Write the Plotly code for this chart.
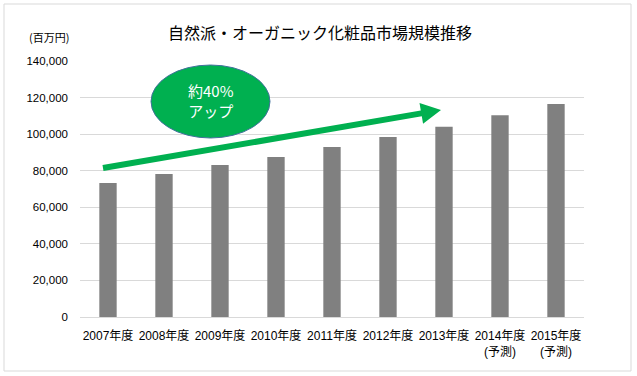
import plotly.graph_objects as go
import math

categories = ["2007年度", "2008年度", "2009年度", "2010年度", "2011年度",
              "2012年度", "2013年度", "2014年度<br>(予測)", "2015年度<br>(予測)"]
values = [73300, 78200, 83100, 87500, 93000, 98400, 104000, 110400, 116500]
y_ticks = [0, 20000, 40000, 60000, 80000, 100000, 120000, 140000]
title_text = "自然派・オーガニック化粧品市場規模推移"
unit_text = "(百万円)"
bubble_text = "約40%<br>アップ"

W, H = 637, 376
L, R, T, B = 80, 53, 61, 59
pw, ph = W - L - R, H - T - B
xr = [-0.5, len(categories) - 0.5]
yr = [0, 140000]

def px2d(px, py):
    x = xr[0] + (px - L) / pw * (xr[1] - xr[0])
    y = yr[0] + (H - B - py) / ph * (yr[1] - yr[0])
    return x, y

def px2paper(px, py):
    return (px - L) / pw, (H - B - py) / ph

xs = list(range(len(categories)))
fig = go.Figure()
fig.add_trace(go.Bar(x=xs, y=values, marker=dict(color="#808080", line=dict(width=0)),
                     width=0.31, hoverinfo="skip"))

shapes = []
# chart border
bx0, by0 = px2paper(4, 371)
bx1, by1 = px2paper(631, 4)
shapes.append(dict(type="rect", xref="paper", yref="paper", x0=bx0, y0=by0, x1=bx1, y1=by1,
                   line=dict(color="#D9D9D9", width=1), fillcolor="rgba(0,0,0,0)", layer="above"))

# ellipse
ex0, ey0 = px2d(151, 138)
ex1, ey1 = px2d(270, 65)
shapes.append(dict(type="circle", xref="x", yref="y", x0=ex0, y0=ey0, x1=ex1, y1=ey1,
                   fillcolor="#00B050", line=dict(color="#41719C", width=1), layer="above"))

# arrow polygon (pixel geometry)
Sx, Sy = 103, 168
Tx, Ty = 441, 110
dx, dy = Tx - Sx, Ty - Sy
ln = math.hypot(dx, dy)
ux, uy = dx / ln, dy / ln
nx, ny = -uy, ux
hl, hw, sw = 20, 10.5, 3
Bx, By = Tx - hl * ux, Ty - hl * uy
pts = [(Sx + sw * nx, Sy + sw * ny), (Bx + sw * nx, By + sw * ny), (Bx + hw * nx, By + hw * ny),
       (Tx, Ty), (Bx - hw * nx, By - hw * ny), (Bx - sw * nx, By - sw * ny), (Sx - sw * nx, Sy - sw * ny)]
dpts = [px2d(a, b) for a, b in pts]
path = "M " + " L ".join(f"{a},{b}" for a, b in dpts) + " Z"
shapes.append(dict(type="path", xref="x", yref="y", path=path, fillcolor="#00B050",
                   line=dict(width=0), layer="above"))

annotations = []
tx, ty = px2paper(320, 32)
annotations.append(dict(text=title_text, xref="paper", yref="paper", x=tx, y=ty, xanchor="center",
                        yanchor="middle", showarrow=False,
                        font=dict(family="Noto Sans CJK JP", size=16, color="#000000")))
ux_, uy_ = px2paper(49, 37)
annotations.append(dict(text=unit_text, xref="paper", yref="paper", x=ux_, y=uy_, xanchor="center",
                        yanchor="middle", showarrow=False,
                        font=dict(family="Noto Sans CJK JP", size=11, color="#000000")))
cx, cy = px2d(210.5, 100)
annotations.append(dict(text=bubble_text, xref="x", yref="y", x=cx, y=cy, xanchor="center",
                        yanchor="middle", showarrow=False,
                        font=dict(family="Noto Sans CJK JP", size=15, color="#FFFFFF")))

fig.update_layout(
    width=W, height=H,
    margin=dict(l=L, r=R, t=T, b=B),
    paper_bgcolor="white", plot_bgcolor="white",
    showlegend=False,
    shapes=shapes, annotations=annotations,
    font=dict(family="Liberation Sans, Noto Sans CJK JP", size=12, color="#000000"),
    xaxis=dict(range=xr, tickvals=xs, ticktext=categories, showgrid=False, zeroline=False,
               showline=False, ticks="", tickfont=dict(size=12), ticklabelstandoff=10, fixedrange=True),
    yaxis=dict(range=yr, tickvals=y_ticks, tickformat=",", showgrid=True, gridcolor="#D9D9D9",
               gridwidth=1, zeroline=True, zerolinecolor="#D9D9D9", zerolinewidth=1,
               showline=False, ticks="", tickfont=dict(size=11.5), ticklabelstandoff=11, fixedrange=True),
    bargap=0.69,
)

fig.write_html("out.html", config={"displayModeBar": False, "staticPlot": True},
               post_script="document.body.style.margin='0';document.body.style.overflow='hidden';")
